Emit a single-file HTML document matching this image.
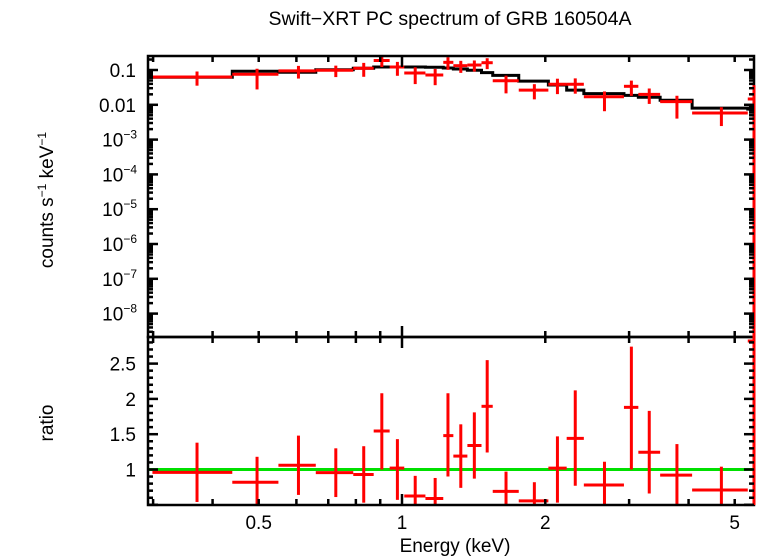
<!DOCTYPE html>
<html><head><meta charset="utf-8"><style>
html,body{margin:0;padding:0;background:#fff;}
svg{display:block;font-family:"Liberation Sans",sans-serif;}
</style></head><body>
<svg id="chart" width="758" height="556" viewBox="0 0 758 556" xmlns="http://www.w3.org/2000/svg">
<text x="450" y="25" font-size="19.5" text-anchor="middle">Swift−XRT PC spectrum of GRB 160504A</text>
<text transform="translate(53,200) rotate(-90)" font-size="19" text-anchor="middle">counts s<tspan font-size="12" dy="-7">−1</tspan><tspan dy="7"> keV</tspan><tspan font-size="12" dy="-7">−1</tspan></text>
<text transform="translate(53,423) rotate(-90)" font-size="19" text-anchor="middle">ratio</text>
<text x="455" y="552" font-size="19" text-anchor="middle">Energy (keV)</text>
<g id="g"></g>
</svg>
<script>
const binEdges=[0.299,0.440,0.550,0.659,0.790,0.872,0.942,1.011,1.120,1.221,1.282,1.372,1.469,1.551,1.759,2.030,2.218,2.410,2.926,3.137,3.486,4.069,5.326];
const binCenters=[0.371,0.496,0.606,0.726,0.831,0.907,0.978,1.066,1.174,1.249,1.329,1.419,1.510,1.654,1.897,2.121,2.312,2.663,3.033,3.307,3.781,4.688];
const countsData=[0.063,0.0755,0.094,0.098,0.112,0.188,0.122,0.082,0.072,0.166,0.133,0.139,0.162,0.049,0.0265,0.039,0.039,0.017,0.034,0.020,0.0123,0.0058];
const modelValues=[0.062,0.092,0.086,0.102,0.112,0.122,0.122,0.122,0.12,0.114,0.107,0.098,0.084,0.07,0.048,0.037,0.0265,0.021,0.0187,0.0165,0.0135,0.008];
const ratioValues=[0.96,0.82,1.06,0.955,0.93,1.545,1.02,0.625,0.59,1.48,1.19,1.34,1.895,0.69,0.555,1.02,1.44,0.78,1.88,1.245,0.92,0.71];
const ratioHigh=[1.38,1.18,1.48,1.30,1.33,2.08,1.43,0.91,0.88,2.08,1.64,1.81,2.55,0.97,0.82,1.47,2.12,1.11,2.74,1.83,1.36,1.04];
const ratioLow=[0.54,0.3,0.64,0.61,0.53,1.0,0.57,0.3,0.3,0.90,0.74,0.87,1.24,0.3,0.3,0.53,0.77,0.3,1.0,0.66,0.3,0.3];
const lastBin=[5.326,5.447]; const lastData=0.0147; const lastRatio=2.82; const lastModel=0.0075;
const yDecadeLabels=["0.1","0.01","10|−3","10|−4","10|−5","10|−6","10|−7","10|−8"];
const xTickLabels=["0.5","1","2","5"];
const ratioTicks=["1","1.5","2","2.5"];

const X0=148,X1=754,TY0=56,TY1=337,BY1=505;
const ns="http://www.w3.org/2000/svg",g=document.getElementById('g');
const xs=e=>402+476*Math.log10(e);
const yt=v=>70-34.8*(Math.log10(v)+1);
const yr=v=>469.5-70.6*(v-1);
function el(t,a){const n=document.createElementNS(ns,t);for(const k in a)n.setAttribute(k,a[k]);g.appendChild(n);return n;}
function ln(x1,y1,x2,y2,c,w,name){const n=el('line',{x1,y1,x2,y2,stroke:c,'stroke-width':w});

return n;}
const cl=(y,a,b)=>Math.max(a,Math.min(b,y));
// model step
let d="";
modelValues.forEach((m,i)=>{const y=yt(m);d+=(i?"L":"M")+Math.max(X0,xs(binEdges[i]))+","+y+"L"+xs(binEdges[i+1])+","+y;});
d+="L"+xs(lastBin[0])+","+yt(lastModel)+"L"+xs(lastBin[1])+","+yt(lastModel);
const mp=el('path',{d,fill:'none',stroke:'#000','stroke-width':3});


// green unity line
ln(X0,yr(1),X1,yr(1),'#00e000',3,'ratio-unity-line');
// data
countsData.forEach((v,i)=>{
 const xa=Math.max(X0,xs(binEdges[i])),xb=xs(binEdges[i+1]),xc=xs(binCenters[i]);
 const y=yt(v);
 ln(xa,y,xb,y,'red',3,'data-xerr-'+i);
 const up=v*ratioHigh[i]/ratioValues[i],lo=v*ratioLow[i]/ratioValues[i];
 ln(xc,cl(yt(up),TY0,TY1),xc,cl(yt(lo),TY0,TY1),'red',3,'data-yerr-'+i);
 const r=ratioValues[i];
 ln(xa,yr(r),xb,yr(r),'red',3,'ratio-xerr-'+i);
 ln(xc,cl(yr(ratioHigh[i]),TY1,BY1),xc,cl(yr(ratioLow[i]),TY1,BY1),'red',3,'ratio-yerr-'+i);
});
// frames
[[TY0,TY1,'top-panel-frame'],[TY1,BY1,'ratio-panel-frame']].forEach(f=>{
 const r=el('rect',{x:X0,y:f[0],width:X1-X0,height:f[1]-f[0],fill:'none',stroke:'#000','stroke-width':2.5});
 
 
});
// last bin drawn over frame
ln(xs(lastBin[0]),yt(lastData),X1,yt(lastData),'red',3,'data-last');
ln(X1,yt(lastData*2.5),X1,TY1,'red',3,'data-last-err');
ln(X1,TY1,X1,BY1,'red',3,'ratio-last-err');
ln(xs(lastBin[0]),yr(lastRatio),X1,yr(lastRatio),'red',3,'ratio-last');
// x ticks
const minorE=[0.3,0.4,0.5,0.6,0.7,0.8,0.9,2,3,4,5];
[[TY0,1],[TY1,-1],[TY1,1],[BY1,-1]].forEach(([y,s])=>{
 minorE.forEach(e=>ln(xs(e),y,xs(e),y+6*s,'#000',2.5,'x-tick'));
 ln(xs(1),y,xs(1),y+11*s,'#000',2.5,'x-tick-major');
});
xTickLabels.forEach(t=>{const n=el('text',{x:xs(parseFloat(t)),y:529,'font-size':19,'text-anchor':'middle'});n.textContent=t;
 
 });
// y ticks top
for(let p=-9;p<=-1;p++){for(let k=1;k<10;k++){const v=k*Math.pow(10,p);const y=yt(v);if(y<TY0||y>TY1)continue;
 const L=k==1?10:5;ln(X0,y,X0+L,y,'#000',2.5,'y-tick');ln(X1,y,X1-L,y,'#000',2.5,'y-tick');}}
yDecadeLabels.forEach((t,i)=>{const y=yt(Math.pow(10,-1-i))+7;const n=el('text',{x:136,y,'font-size':19,'text-anchor':'end'});
 
 
 const p=t.split('|');if(p.length==1)n.textContent=p[0];else n.innerHTML=p[0]+'<tspan font-size="12" dy="-8">'+p[1]+'</tspan>';
 if(p.length>1)n.setAttribute('x',137);});
// ratio ticks
for(let v=0.5;v<=2.9;v+=0.1){const y=yr(v);if(y<TY1||y>BY1)continue;const major=Math.abs(v*2-Math.round(v*2))<0.01;const L=major?10:5;
 ln(X0,y,X0+L,y,'#000',2.5,'ratio-tick');ln(X1,y,X1-L,y,'#000',2.5,'ratio-tick');}
ratioTicks.forEach(t=>{const n=el('text',{x:136,y:yr(parseFloat(t))+7,'font-size':19,'text-anchor':'end'});n.textContent=t;
 
 });
</script>
</body></html>
